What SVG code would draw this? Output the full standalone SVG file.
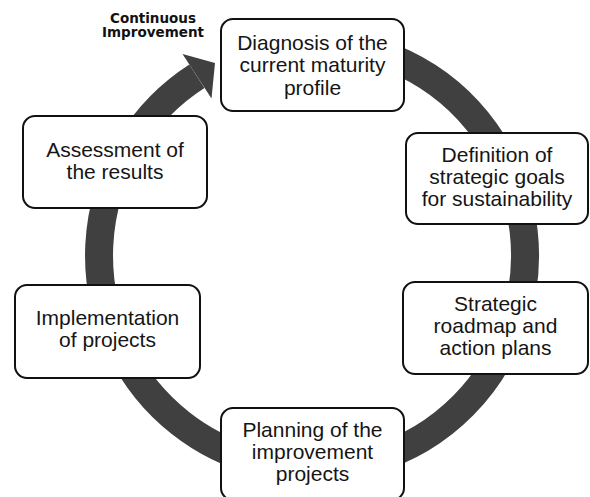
<svg xmlns="http://www.w3.org/2000/svg" width="590" height="497" viewBox="0 0 590 497">
<style>
.box{fill:#ffffff;stroke:#111111;stroke-width:2}
.t{font-family:"Liberation Sans",Arial,sans-serif;font-size:21px;fill:#151515;text-anchor:middle}
.lbl{font-family:"DejaVu Sans",Verdana,sans-serif;font-weight:bold;font-size:13.5px;fill:#111111;text-anchor:middle}
.ring{fill:none;stroke:#404040;stroke-width:28}
</style>
<rect width="590" height="497" fill="#ffffff"/>
<g id="connectors">
<path class="ring" d="M 312 42.5 A 213 213 0 1 1 196.9 76.3"/>
<polygon points="182.5,54 211.5,98.5 215,63" fill="#404040"/>
</g>
<g id="label">
<text class="lbl" x="153" y="22.5">Continuous</text>
<text class="lbl" x="153" y="37">Improvement</text>
</g>
<g id="n1">
<rect class="box" x="221" y="19" width="183" height="92" rx="12"/>
<text class="t" x="312.5" y="49.5">Diagnosis of the</text>
<text class="t" x="312.5" y="72">current maturity</text>
<text class="t" x="312.5" y="94.5">profile</text>
</g>
<g id="n2">
<rect class="box" x="406" y="133" width="182" height="91" rx="12"/>
<text class="t" x="497" y="161.5">Definition of</text>
<text class="t" x="497" y="183.5">strategic goals</text>
<text class="t" x="497" y="205.5">for sustainability</text>
</g>
<g id="n3">
<rect class="box" x="403" y="282" width="185" height="92" rx="12"/>
<text class="t" x="495.5" y="311">Strategic</text>
<text class="t" x="495.5" y="333">roadmap and</text>
<text class="t" x="495.5" y="355">action plans</text>
</g>
<g id="n4">
<rect class="box" x="221" y="408" width="183" height="92" rx="12"/>
<text class="t" x="312.5" y="437">Planning of the</text>
<text class="t" x="312.5" y="459">improvement</text>
<text class="t" x="312.5" y="481">projects</text>
</g>
<g id="n5">
<rect class="box" x="23" y="116" width="184" height="92" rx="12"/>
<text class="t" x="115" y="157">Assessment of</text>
<text class="t" x="115" y="179">the results</text>
</g>
<g id="n6">
<rect class="box" x="15" y="285" width="185" height="93" rx="12"/>
<text class="t" x="107.5" y="325">Implementation</text>
<text class="t" x="107.5" y="347">of projects</text>
</g>
</svg>
